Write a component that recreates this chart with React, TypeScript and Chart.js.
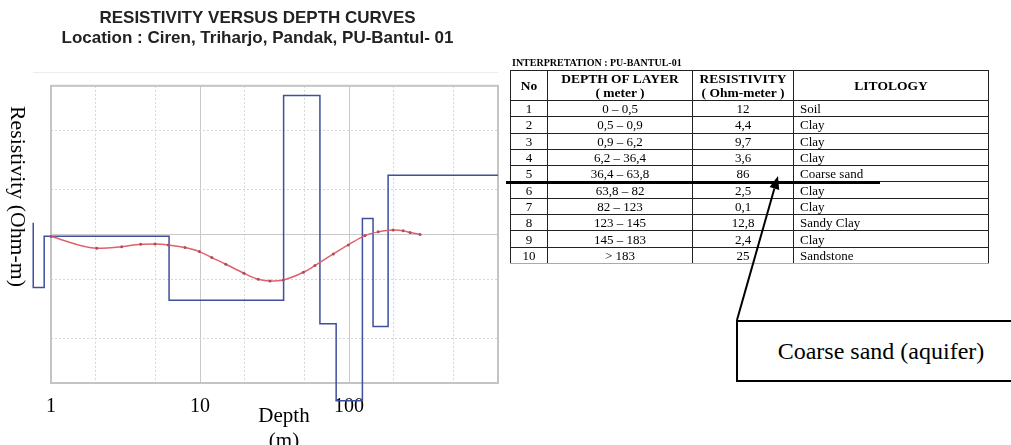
import React, { useEffect, useRef } from 'react';
import { Chart, registerables } from 'chart.js';

Chart.register(...registerables);

// ---------- chart data ----------
const chartTitle = ['RESISTIVITY VERSUS DEPTH CURVES', 'Location : Ciren, Triharjo, Pandak, PU-Bantul- 01'];
const xGridValues = [1, 2, 5, 10, 20, 50, 100, 200, 500, 1000];
const yGridValues = [1, 2, 5, 10, 20, 50, 100];
const xTickLabels = ['1', '10', '100'];
const xAxisTitle = ['Depth', '(m)'];
const yAxisTitle = 'Resistivity (Ohm-m)';

// apparent resistivity curve (red)
const curveDepth = [1.0, 2.03, 2.98, 4.0, 4.99, 6.13, 7.93, 9.9, 12.0, 14.9, 19.7, 24.6, 29.5, 36.2, 49.4, 59.1, 78.5, 98.9, 128, 157, 198, 231, 257, 300];
const curveResistivity = [9.67, 8.07, 8.27, 8.59, 8.63, 8.5, 8.15, 7.66, 6.98, 6.3, 5.48, 4.99, 4.86, 4.94, 5.56, 6.17, 7.39, 8.5, 9.82, 10.4, 10.7, 10.6, 10.3, 10.0];

// layered model (blue step line)
const modelDepthTop = [0.76, 0.76, 0.9, 6.2, 36.4, 63.8, 82, 123, 145, 183];
const modelResistivity = [12, 4.4, 9.7, 3.6, 86, 2.5, 0.76, 12.8, 2.4, 25];
const modelDepthMax = 1000;

// ---------- table data ----------
const tableTitle = 'INTERPRETATION : PU-BANTUL-01';
const layerNo = ['1', '2', '3', '4', '5', '6', '7', '8', '9', '10'];
const layerDepth = ['0 – 0,5', '0,5 – 0,9', '0,9 – 6,2', '6,2 – 36,4', '36,4 – 63,8', '63,8 – 82', '82 – 123', '123 – 145', '145 – 183', '> 183'];
const layerResistivity = ['12', '4,4', '9,7', '3,6', '86', '2,5', '0,1', '12,8', '2,4', '25'];
const layerLitology = ['Soil', 'Clay', 'Clay', 'Clay', 'Coarse sand', 'Clay', 'Clay', 'Sandy Clay', 'Clay', 'Sandstone'];
const calloutText = 'Coarse sand (aquifer)';

const SERIF = '"Liberation Serif", "Times New Roman", serif';
const SANS = '"Liberation Sans", Arial, sans-serif';

const isDecade = (v: number | undefined) => v !== undefined && Math.abs(Math.log10(v) - Math.round(Math.log10(v))) < 1e-9;

const framePlugin = {
  id: 'frame',
  beforeDatasetsDraw(chart: any) {
    const { ctx, chartArea } = chart;
    const { left, top, right, bottom } = chartArea;
    ctx.save();
    ctx.strokeStyle = '#c4c4c4';
    ctx.lineWidth = 2;
    ctx.strokeRect(left, top, right - left, bottom - top);
    ctx.restore();
  },
};

function ResistivityChart() {
  const ref = useRef<HTMLCanvasElement | null>(null);
  useEffect(() => {
    if (!ref.current) return;
    const curvePoints = curveDepth.map((d, i) => ({ x: d, y: curveResistivity[i] }));
    // step path of the layered model, traced from deep to shallow
    const modelPoints = modelDepthTop
      .flatMap((d, i) => {
        const end = i < modelDepthTop.length - 1 ? modelDepthTop[i + 1] : modelDepthMax;
        return [
          { x: d, y: modelResistivity[i] },
          { x: end, y: modelResistivity[i] },
        ];
      })
      .reverse();
    const gridColor = (ctx: any) => (isDecade(ctx.tick?.value) ? '#c9c9c9' : '#d6d6d6');
    const gridDash = (ctx: any) => (ctx.tick && !isDecade(ctx.tick.value) ? [2, 2] : []);
    const chart = new Chart(ref.current, {
      type: 'line',
      data: {
        datasets: [
          {
            label: 'Apparent resistivity',
            data: curvePoints,
            borderColor: '#e0606c',
            borderWidth: 1.5,
            pointRadius: 1.5,
            pointBackgroundColor: '#a8505c',
            pointBorderWidth: 0,
            cubicInterpolationMode: 'monotone',
            clip: false,
          } as any,
          {
            label: 'Model',
            data: modelPoints,
            borderColor: '#3e4f9e',
            borderWidth: 1.5,
            pointRadius: 0,
            tension: 0,
            clip: false,
          } as any,
        ],
      },
      options: {
        animation: false,
        responsive: true,
        maintainAspectRatio: false,
        layout: { padding: { left: 17, right: 17, top: 0, bottom: 14 } },
        plugins: {
          legend: { display: false },
          tooltip: { enabled: false },
          title: {
            display: true,
            text: chartTitle,
            color: '#222',
            font: { family: SANS, size: 17, weight: 'bold', lineHeight: 1.2 },
            padding: { top: 8, bottom: 37 },
          },
        },
        scales: {
          x: {
            type: 'logarithmic',
            min: 1,
            max: 1000,
            afterBuildTicks: (s: any) => {
              s.ticks = xGridValues.map((v) => ({ value: v }));
            },
            ticks: {
              autoSkip: false,
              maxRotation: 0,
              padding: 12,
              color: '#000',
              font: { family: SERIF, size: 20 },
              callback: (v: any) => (xTickLabels.includes(String(v)) ? String(v) : ''),
            },
            grid: { drawTicks: false, color: gridColor, lineWidth: 1 },
            border: { display: false, dash: gridDash },
          },
          y: {
            type: 'logarithmic',
            min: 1,
            max: 100,
            afterBuildTicks: (s: any) => {
              s.ticks = yGridValues.map((v) => ({ value: v }));
            },
            afterFit: (s: any) => {
              s.width = 34;
            },
            ticks: { display: false },
            grid: { drawTicks: false, color: gridColor, lineWidth: 1 },
            border: { display: false, dash: gridDash },
          },
        },
      } as any,
      plugins: [framePlugin],
    });
    return () => chart.destroy();
  }, []);
  return (
    <div style={{ position: 'absolute', left: 0, top: 0, width: 515, height: 445 }}>
      <canvas ref={ref} />
    </div>
  );
}

const cellBorder = '1px solid #222';

export default function App() {
  const headCell: React.CSSProperties = {
    border: cellBorder,
    fontWeight: 'bold',
    fontSize: 13.5,
    lineHeight: '14px',
    textAlign: 'center',
    verticalAlign: 'middle',
    padding: 0,
  };
  const bodyCell: React.CSSProperties = {
    border: cellBorder,
    fontSize: 13,
    lineHeight: '13px',
    textAlign: 'center',
    verticalAlign: 'middle',
    padding: 0,
    height: 15.3,
    whiteSpace: 'nowrap',
  };
  return (
    <div
      style={{
        position: 'fixed',
        left: 0,
        top: 0,
        width: 1011,
        height: 445,
        overflow: 'hidden',
        background: '#fff',
        fontFamily: SERIF,
        color: '#000',
      }}
    >
      <div style={{ position: 'absolute', left: 33, top: 72, width: 465, height: 1, background: '#ececec' }} />
      <ResistivityChart />
      <div
        style={{
          position: 'absolute',
          left: 6,
          top: 106,
          width: 24,
          writingMode: 'vertical-rl',
          fontSize: 21.8,
          lineHeight: '24px',
          whiteSpace: 'nowrap',
        }}
      >
        {yAxisTitle}
      </div>
      <div
        style={{
          position: 'absolute',
          left: 234,
          top: 403,
          width: 100,
          textAlign: 'center',
          fontSize: 21,
          lineHeight: '25px',
        }}
      >
        {xAxisTitle.map((t) => (
          <div key={t}>{t}</div>
        ))}
      </div>

      <div style={{ position: 'absolute', left: 512, top: 57, fontSize: 10, fontWeight: 'bold', lineHeight: '12px', whiteSpace: 'nowrap' }}>
        {tableTitle}
      </div>
      <table
        style={{
          position: 'absolute',
          left: 510,
          top: 70,
          width: 478,
          borderCollapse: 'collapse',
          tableLayout: 'fixed',
          fontFamily: SERIF,
        }}
      >
        <colgroup>
          <col style={{ width: 37 }} />
          <col style={{ width: 145 }} />
          <col style={{ width: 101 }} />
          <col style={{ width: 195 }} />
        </colgroup>
        <thead>
          <tr style={{ height: 30 }}>
            <th style={headCell}>No</th>
            <th style={headCell}>
              DEPTH OF LAYER
              <br />( meter )
            </th>
            <th style={headCell}>
              RESISTIVITY
              <br />( Ohm-meter )
            </th>
            <th style={headCell}>LITOLOGY</th>
          </tr>
        </thead>
        <tbody>
          {layerNo.map((n, i) => {
            const last = i === layerNo.length - 1;
            const extra: React.CSSProperties = last ? { borderBottom: '1px solid #aaa' } : {};
            return (
              <tr key={n}>
                <td style={{ ...bodyCell, ...extra }}>{n}</td>
                <td style={{ ...bodyCell, ...extra }}>{layerDepth[i]}</td>
                <td style={{ ...bodyCell, ...extra }}>{layerResistivity[i]}</td>
                <td style={{ ...bodyCell, ...extra, textAlign: 'left', paddingLeft: 6 }}>{layerLitology[i]}</td>
              </tr>
            );
          })}
        </tbody>
      </table>

      <div style={{ position: 'absolute', left: 506, top: 181, width: 374, height: 3, background: '#000' }} />

      <svg width={1011} height={445} style={{ position: 'absolute', left: 0, top: 0, pointerEvents: 'none' }}>
        <line x1={737} y1={320} x2={774.4} y2={188.5} stroke="#000" strokeWidth={2} />
        <polygon points="778,176 779.2,189.9 769.6,187.1" fill="#000" />
      </svg>

      <div
        style={{
          position: 'absolute',
          left: 736,
          top: 320,
          width: 290,
          height: 62,
          boxSizing: 'border-box',
          border: '2px solid #000',
          background: '#fff',
          display: 'flex',
          alignItems: 'center',
          justifyContent: 'center',
          fontSize: 24,
          whiteSpace: 'nowrap',
        }}
      >
        {calloutText}
      </div>
    </div>
  );
}
